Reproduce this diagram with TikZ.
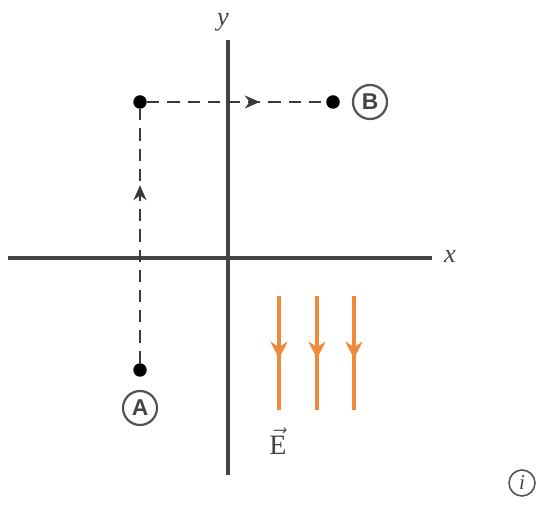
\documentclass[tikz,border=0pt]{standalone}
\usepackage{fontspec}
\setmainfont{Liberation Serif}
\newfontfamily\lblfont{Liberation Sans}
\usetikzlibrary{arrows.meta, decorations.markings}
\definecolor{axgray}{HTML}{444444}
\definecolor{pathgray}{HTML}{3A3A3A}
\definecolor{ringgray}{HTML}{555555}
\definecolor{fieldorange}{HTML}{F08A3A}

\begin{document}
\begin{tikzpicture}[
  x=0.02cm, y=-0.02cm,
  >={Stealth[length=3mm, width=2.6mm]},
  axis/.style={axgray, line width=2.1pt},
  ptdot/.style={circle, fill=black, inner sep=0pt, minimum size=2.7mm},
  ptlabel/.style={circle, draw=ringgray, line width=1.3pt, inner sep=0pt,
    minimum size=6.8mm, text=axgray, font=\lblfont\bfseries\fontsize{13}{13}\selectfont},
  midarrow/.style={postaction={decorate},
    decoration={markings, mark=at position #1 with {\arrow{>}}}},
  dashpath/.style={pathgray, line width=1.3pt, dash pattern=on 7pt off 4.5pt},
  fieldline/.style={fieldorange, line width=2.6pt,
    >={Stealth[length=3.4mm, width=3.4mm]}},
]

% canvas is 558 x 516 px, y counted downward
\useasboundingbox (0,0) rectangle (558,516);

% --- axes ---
\coordinate (xleft) at (8,258);
\coordinate (xright) at (432,258);
\coordinate (ybot) at (228,475);
\coordinate (ytop) at (228,40);
\draw[axis] (xleft) -- (xright);
\draw[axis] (ybot) -- (ytop);
\node[font=\itshape\fontsize{15}{15}\selectfont, text=axgray] (ylab) at (223,22) {y};
\node[font=\itshape\fontsize{15}{15}\selectfont, text=axgray] (xlab) at (450,256) {x};

% --- points and path A -> corner -> B ---
\node[ptdot] (A) at (140,370) {};
\node[ptdot] (corner) at (140,102) {};
\node[ptdot] (B) at (333,102) {};
\node[ptlabel] (Alab) at (140,408) {A};
\node[ptlabel] (Blab) at (370,102) {B};

\draw[dashpath, midarrow=0.70] (A) -- (corner);
\draw[dashpath, midarrow=0.63] (corner) -- (B);

% --- field lines ---
\foreach \fx in {279,317,354} {
  \draw[fieldline, midarrow=0.55] (\fx,296) -- (\fx,410);
}
\node[text=axgray, font=\fontsize{16}{16}\selectfont, inner sep=1pt] (Elab) at (278,441)
  {$\vec{\mathrm{E}}$};

% --- corner mark ---
\node[circle, draw=ringgray, line width=0.9pt, inner sep=0pt, minimum size=5.2mm,
  text=axgray, font=\itshape\fontsize{12}{12}\selectfont] (imark) at (522,483) {i};

\end{tikzpicture}
\end{document}
